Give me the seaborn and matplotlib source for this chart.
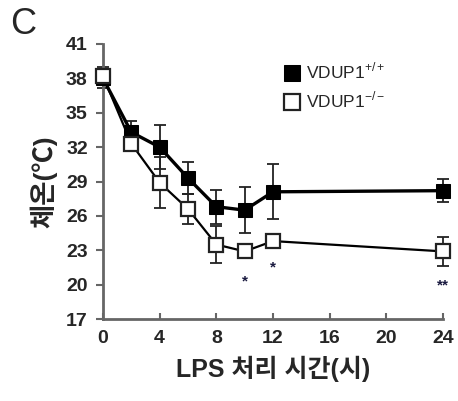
import matplotlib
matplotlib.use("Agg")
import matplotlib.pyplot as plt
import seaborn as sns
import pandas as pd

hours = [0, 2, 4, 6, 8, 10, 12, 24]
wt_mean = [38.0, 33.3, 32.0, 29.3, 26.8, 26.5, 28.1, 28.2]
wt_err = [0.8, 1.0, 1.9, 1.4, 1.5, 2.0, 2.4, 1.0]
ko_mean = [38.2, 32.3, 28.9, 26.6, 23.5, 22.9, 23.8, 22.9]
ko_err = [0.8, 0.5, 2.2, 1.3, 1.6, 0.3, 0.4, 1.3]
labels = ["VDUP1$^{+/+}$", "VDUP1$^{-/-}$"]
star_x = [10, 12, 24]
star_y = [20.3, 21.5, 19.9]
star_txt = ["*", "*", "**"]
xticks = [0, 4, 8, 12, 16, 20, 24]
yticks = [17, 20, 23, 26, 29, 32, 35, 38, 41]

sns.set_style("ticks")
plt.rcParams['font.family'] = ['Liberation Sans', 'Noto Sans CJK KR', 'DejaVu Sans']
plt.rcParams['mathtext.fontset'] = 'custom'
plt.rcParams['mathtext.rm'] = 'Liberation Sans'

df = pd.DataFrame({
    "hour": hours * 2,
    "temp": wt_mean + ko_mean,
    "group": [labels[0]] * len(hours) + [labels[1]] * len(hours),
})

fig = plt.figure(figsize=(4.58, 4.01), dpi=100)
ax = fig.add_axes([103/458, 1 - 319/401, 340/458, 275/401])

for m, e in ((wt_mean, wt_err), (ko_mean, ko_err)):
    eb = ax.errorbar(hours, m, yerr=e, fmt='none', ecolor='#222222', elinewidth=1.3,
                     capsize=4, capthick=1.3, zorder=2)
    for art in list(eb.lines[1]) + list(eb.lines[2]):
        art.set_clip_on(False)

sns.lineplot(data=df[df.group == labels[0]], x="hour", y="temp", ax=ax, color='black',
             marker='s', markersize=10, markerfacecolor='black', markeredgecolor='black',
             linewidth=2.4, label=labels[0], zorder=3, clip_on=False)
sns.lineplot(data=df[df.group == labels[1]], x="hour", y="temp", ax=ax, color='black',
             marker='s', markersize=10, markerfacecolor='white', markeredgecolor='#222222',
             markeredgewidth=1.6, linewidth=1.6, label=labels[1], zorder=4, clip_on=False)

for x, y, t in zip(star_x, star_y, star_txt):
    ax.text(x, y, t, ha='center', va='center', fontsize=11, fontweight='bold', color='#1a1a40')

ax.set_xlim(0, 24)
ax.set_ylim(17, 41)
ax.set_xticks(xticks)
ax.set_yticks(yticks)
ax.tick_params(axis='y', labelsize=14, width=1.5, length=5, color='#666666', pad=6, direction='out')
ax.tick_params(axis='x', labelsize=14, width=1.5, length=4, color='#666666', pad=8, direction='in')
for lab in ax.get_xticklabels() + ax.get_yticklabels():
    lab.set_fontweight('bold')
for s in ['left', 'bottom']:
    ax.spines[s].set_color('#666666')
    ax.spines[s].set_linewidth(2)
sns.despine(ax=ax)

ax.set_xlabel("LPS 처리 시간(시)", fontsize=18, fontweight='bold', labelpad=6)
ax.set_ylabel("체온(℃)", fontsize=19, fontweight='bold', labelpad=6)

leg = ax.legend(loc='upper left', bbox_to_anchor=(0.485, 0.995), frameon=False, fontsize=12.5,
                handlelength=1.0, handletextpad=0.3, labelspacing=0.5, markerscale=1.2)
for h in leg.legend_handles:
    h.set_linestyle('None')

fig.text(10/458, 1 - 24/401, "C", fontsize=26, ha='left', va='center')

fig.savefig("out.png", dpi=100)
